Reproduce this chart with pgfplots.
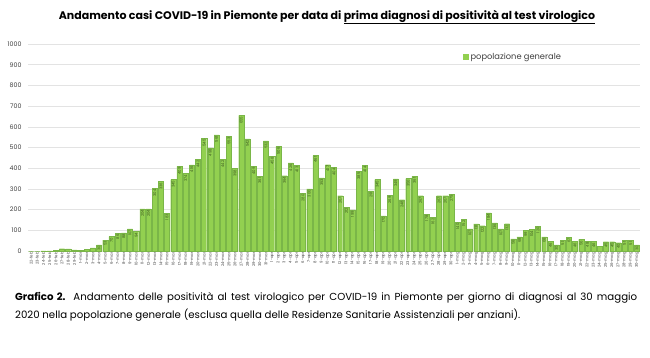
\documentclass[border=0pt]{standalone}
\usepackage{pgfplots}
\usepackage{pgfplotstable}
\pgfplotsset{compat=1.18}
\usepackage{fontspec}
\setmainfont{Poppins}
\definecolor{barfill}{HTML}{92D050}
\definecolor{baredge}{HTML}{7AB648}
\definecolor{lbl}{HTML}{3E5C22}
\definecolor{gridc}{HTML}{E3E3E3}
\definecolor{tickc}{HTML}{404040}
\pgfplotstableread{
x y
0 0
1 0
2 1
3 1
4 2
5 11
6 10
7 5
8 3
9 8
10 15
11 30
12 53
13 70
14 86
15 88
16 107
17 94
18 204
19 204
20 304
21 336
22 183
23 345
24 409
25 374
26 416
27 442
28 545
29 498
30 561
31 442
32 553
33 398
34 655
35 542
36 409
37 361
38 532
39 458
40 506
41 364
42 426
43 413
44 280
45 300
46 461
47 353
48 417
49 404
50 267
51 212
52 199
53 385
54 414
55 291
56 345
57 170
58 269
59 349
60 248
61 350
62 361
63 267
64 178
65 162
66 267
67 267
68 275
69 140
70 152
71 107
72 131
73 122
74 184
75 136
76 107
77 132
78 58
79 68
80 99
81 104
82 120
83 68
84 46
85 30
86 51
87 67
88 46
89 56
90 48
91 46
92 24
93 45
94 45
95 40
96 51
97 51
98 30
}\datatable
\begin{document}
\begin{tikzpicture}
\useasboundingbox (0,0) rectangle (650pt,357pt);
\node[font=\bfseries\fontsize{11}{13}\selectfont] at (327pt,340pt)
  {Andamento casi COVID-19 in Piemonte per data di \underline{prima diagnosi di positività al test virologico}};
\begin{axis}[
  at={(28pt,106pt)}, anchor=south west,
  scale only axis, width=612pt, height=207pt,
  ymin=0, ymax=1000, ytick={0,100,...,1000},
  xmin=-0.5, xmax=98.5,
  ybar, bar width=0.82,
  axis x line*=bottom, axis y line*=left,
  x axis line style={draw=gridc, -},
  y axis line style={draw=none},
  ymajorgrids, grid style={draw=gridc, line width=0.5pt},
  major tick length=0pt,
  /pgf/number format/assume math mode=true,
  /pgf/number format/1000 sep={},
  yticklabel style={font=\fontsize{6.3}{7}\selectfont, text=tickc, xshift=-3pt},
  xtick=data,
  xticklabels={22-feb,23-feb,24-feb,25-feb,26-feb,27-feb,28-feb,29-feb,
    1-mar,2-mar,3-mar,4-mar,5-mar,6-mar,7-mar,8-mar,9-mar,10-mar,11-mar,12-mar,13-mar,14-mar,15-mar,16-mar,17-mar,18-mar,19-mar,20-mar,21-mar,22-mar,23-mar,24-mar,25-mar,26-mar,27-mar,28-mar,29-mar,30-mar,31-mar,
    1-apr,2-apr,3-apr,4-apr,5-apr,6-apr,7-apr,8-apr,9-apr,10-apr,11-apr,12-apr,13-apr,14-apr,15-apr,16-apr,17-apr,18-apr,19-apr,20-apr,21-apr,22-apr,23-apr,24-apr,25-apr,26-apr,27-apr,28-apr,29-apr,30-apr,
    1-mag,2-mag,3-mag,4-mag,5-mag,6-mag,7-mag,8-mag,9-mag,10-mag,11-mag,12-mag,13-mag,14-mag,15-mag,16-mag,17-mag,18-mag,19-mag,20-mag,21-mag,22-mag,23-mag,24-mag,25-mag,26-mag,27-mag,28-mag,29-mag,30-mag},
  xticklabel style={rotate=90, anchor=east, font=\fontsize{3.8}{4}\selectfont, text=tickc, inner sep=1pt},
  legend style={at={(0.709,0.937)}, anchor=west, draw=none, fill=none,
    font=\fontsize{8.3}{9}\selectfont, text=tickc, inner sep=1pt},
  legend image code/.code={\fill[barfill] (0pt,-2.6pt) rectangle (5.2pt,2.6pt);},
  clip=false,
]
\addplot[fill=barfill, draw=baredge, line width=0.3pt, bar shift=0pt] table[x=x,y=y]{\datatable};
\addlegendentry{popolazione generale}
\addplot[draw=none, fill=none, bar shift=0pt, forget plot,
  restrict y to domain=25:1000,
  nodes near coords,
  nodes near coords style={rotate=90, anchor=east, inner sep=1pt,
    font=\fontsize{3.8}{4}\selectfont, text=lbl}] table[x=x,y=y]{\datatable};
\end{axis}
\node[anchor=north west, text width=622pt, align=justify, inner sep=0pt,
  font=\fontsize{10.2}{18}\selectfont] at (15pt,65pt)
  {\textbf{Grafico 2.} Andamento delle positività al test virologico per COVID-19 in Piemonte per giorno di diagnosi al 30 maggio\linebreak
   2020 nella popolazione generale (esclusa quella delle Residenze Sanitarie Assistenziali per anziani).};
\end{tikzpicture}
\end{document}
